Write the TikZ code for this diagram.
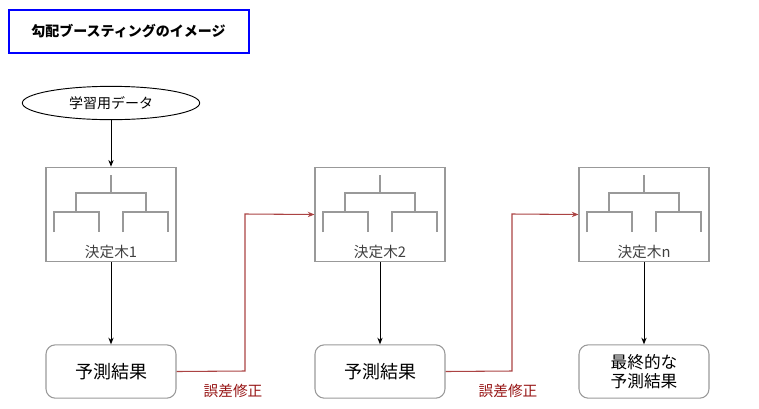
\documentclass[tikz,border=0pt]{standalone}
\usepackage{fontspec}
\newfontfamily\cjk{Noto Sans CJK JP}
\usetikzlibrary{arrows.meta,shapes.geometric}
\definecolor{errred}{RGB}{150,20,20}
\tikzset{
 treebox/.style={draw=gray!80,line width=0.8pt,minimum width=97.5pt,minimum height=71pt,inner sep=0pt},
 resbox/.style={draw=gray!80,line width=0.8pt,rounded corners=7pt,minimum width=97.5pt,minimum height=40pt,font=\cjk\fontsize{13.5}{15}\selectfont,align=center},
 arr/.style={-{Stealth[length=5pt,width=4pt]},line width=0.7pt},
 rarr/.style={-{Stealth[length=5pt,width=4pt]},line width=0.8pt,draw=errred!80},
 tline/.style={draw=gray!80,line width=0.8pt},
 lbl/.style={font=\cjk\fontsize{11}{13}\selectfont,text=gray!50!black},
 elbl/.style={font=\cjk\fontsize{11}{13}\selectfont,text=errred}
}
\begin{document}
\begin{tikzpicture}[x=0.75pt,y=-0.75pt]
\useasboundingbox (0,0) rectangle (759,408);
\node[draw=blue,line width=1.5pt,minimum width=180pt,minimum height=32pt,font=\cjk\bfseries\fontsize{10.5}{12}\selectfont] (title) at (128.5,31.5) {勾配ブースティングのイメージ};
\node[draw,ellipse,line width=0.7pt,minimum width=133pt,minimum height=25pt,font=\cjk\fontsize{10.5}{12}\selectfont,inner sep=0pt] (data) at (111,103) {学習用データ};
\foreach \i/\x/\t in {1/111/決定木1,2/380/決定木2,3/644/決定木n}{
 \node[treebox] (t\i) at (\x,214.5) {};
 \draw[tline] (\x,175) -- (\x,193) (\x-35,212) -- (\x-35,193) -- (\x+35,193) -- (\x+35,212);
 \draw[tline] (\x-57,232) -- (\x-57,212) -- (\x-12,212) -- (\x-12,232);
 \draw[tline] (\x+12,232) -- (\x+12,212) -- (\x+57,212) -- (\x+57,232);
 \node[lbl] (tl\i) at (\x,252) {\t};
}
\node[resbox] (r1) at (111,371.5) {予測結果};
\node[resbox] (r2) at (380,371.5) {予測結果};
\node[resbox,font=\cjk\fontsize{12.5}{14}\selectfont] (r3) at (644,371.5) {最終的な\\予測結果};
\draw[arr] (data) -- (t1);
\foreach \i in {1,2,3}{\draw[arr] (t\i) -- (r\i);}
\draw[rarr] (r1.east) -- (245,371) -- (245,214) -- (t2.west);
\draw[rarr] (r2.east) -- (512,371) -- (512,214) -- (t3.west);
\node[elbl] (e1) at (233,391) {誤差修正};
\node[elbl] (e2) at (508,391) {誤差修正};
\end{tikzpicture}
\end{document}
